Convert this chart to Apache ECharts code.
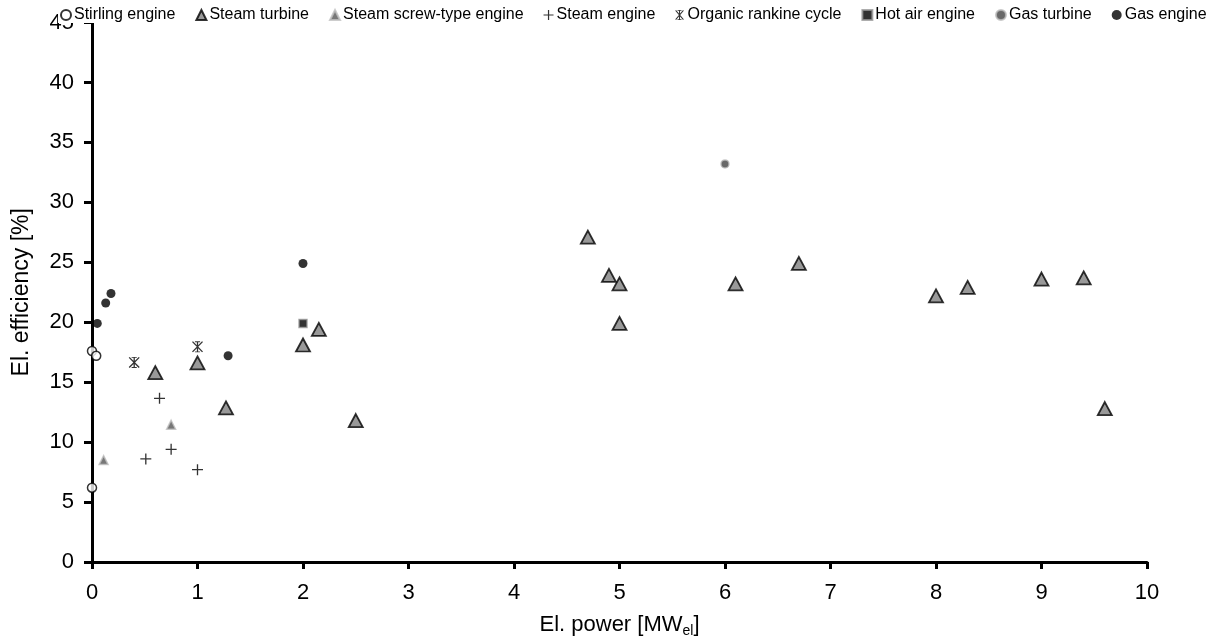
<!DOCTYPE html>
<html>
<head>
<meta charset="utf-8">
<script src="https://cdn.jsdelivr.net/npm/echarts@6/dist/echarts.min.js"></script>
<style>html,body{margin:0;padding:0;background:#fff}#c{width:1223px;height:643px}</style>
</head>
<body>
<div id="c"></div>
<script>
// Data: [El. power MW_el, El. efficiency %]
var seriesNames = ['Stirling engine','Steam turbine','Steam screw-type engine','Steam engine','Organic rankine cycle','Hot air engine','Gas turbine','Gas engine'];
var stirlingEngine = [[0,17.6],[0.04,17.2],[0,6.2]];
var steamTurbine = [[0.6,15.8],[1.0,16.6],[1.27,12.85],[2.0,18.1],[2.15,19.4],[2.5,11.8],[4.7,27.1],[4.9,23.9],[5.0,23.2],[5.0,19.9],[6.1,23.2],[6.7,24.9],[8.0,22.2],[8.3,22.9],[9.0,23.6],[9.4,23.7],[9.6,12.8]];
var steamScrewEngine = [[0.11,8.5],[0.75,11.45]];
var steamEngine = [[0.64,13.65],[0.51,8.6],[0.75,9.4],[1.0,7.7]];
var organicRankine = [[0.4,16.65],[1.0,17.95]];
var hotAirEngine = [[2.0,19.9]];
var gasTurbine = [[6.0,33.2]];
var gasEngine = [[0.05,19.9],[0.13,21.6],[0.18,22.4],[1.29,17.2],[2.0,24.9]];
var xTicks = [0,1,2,3,4,5,6,7,8,9,10];
var yTicks = [0,5,10,15,20,25,30,35,40,45];

var FONT = 'Liberation Sans, Arial, sans-serif';
var plusPath = 'path://M8.8,0H11.2V8.8H20V11.2H11.2V20H8.8V11.2H0V8.8H8.8Z';
var starPath = 'path://M9,0H11V20H9Z M1.5,1.5L3,0L18.5,18.5L17,20Z M17,0L18.5,1.5L3,20L1.5,18.5Z M6,0H14V1.6H6Z M6,18.4H14V20H6Z';

var chart = echarts.init(document.getElementById('c'), null, {renderer:'canvas'});
function sc(name, data, symbol, size, style, z){
  return {name:name, type:'scatter', data:data, symbol:symbol, symbolSize:size, itemStyle:style, z:z||2, emphasis:{disabled:true}};
}
chart.setOption({
  animation:false,
  backgroundColor:'#fff',
  textStyle:{fontFamily:FONT},
  grid:{left:92, right:76, top:22.5, bottom:80.5, containLabel:false},
  legend:{
    top:7, left:58, padding:[0,4,0,2], backgroundColor:'#fff', z:10,
    itemWidth:10, itemHeight:10, itemGap:20,
    textStyle:{fontFamily:FONT, fontSize:16, color:'#000', padding:[0,0,0,-2]},
    data:seriesNames
  },
  xAxis:{
    type:'value', min:0, max:10, interval:1,
    name:'{a|El. power [MW}{s|el}{a|]}', nameLocation:'middle', nameGap:50,
    nameTextStyle:{rich:{a:{fontFamily:FONT,fontSize:22,color:'#000'},s:{fontFamily:FONT,fontSize:14,color:'#000',verticalAlign:'bottom',padding:[12,0,0,0]}}},
    axisLine:{onZero:false, lineStyle:{color:'#000', width:3}},
    axisTick:{show:true, length:7, lineStyle:{color:'#000', width:3}},
    axisLabel:{fontFamily:FONT, fontSize:22, color:'#000', margin:20, formatter:function(v){return xTicks.indexOf(v)>=0?String(v):'';}},
    splitLine:{show:false}
  },
  yAxis:{
    type:'value', min:0, max:45, interval:5,
    name:'El. efficiency [%]', nameLocation:'middle', nameGap:59, nameRotate:90,
    nameTextStyle:{fontFamily:FONT, fontSize:23, color:'#000'},
    axisLine:{onZero:false, lineStyle:{color:'#000', width:3}},
    axisTick:{show:true, length:8, lineStyle:{color:'#000', width:3}},
    axisLabel:{fontFamily:FONT, fontSize:22, color:'#000', margin:18, formatter:function(v){return yTicks.indexOf(v)>=0?String(v):'';}},
    splitLine:{show:false}
  },
  series:[
    sc(seriesNames[0], stirlingEngine, 'circle', 9, {color:'#fff', borderColor:'#000', borderWidth:1.5}, 5),
    sc(seriesNames[1], steamTurbine, 'triangle', [14,13], {color:'#808080', borderColor:'#000', borderWidth:1.8}, 3),
    sc(seriesNames[2], steamScrewEngine, 'triangle', 9, {color:'#555', borderColor:'#c0c0c0', borderWidth:1.5}, 3),
    sc(seriesNames[3], steamEngine, plusPath, 11, {color:'#000'}, 3),
    sc(seriesNames[4], organicRankine, starPath, 11, {color:'#000'}, 3),
    sc(seriesNames[5], hotAirEngine, 'rect', 8, {color:'#000', borderColor:'#999', borderWidth:1.5}, 3),
    sc(seriesNames[6], gasTurbine, 'circle', 8, {color:'#444', borderColor:'#bbb', borderWidth:1.5}, 3),
    sc(seriesNames[7], gasEngine, 'circle', 9, {color:'#000'}, 4)
  ]
});
</script>
</body>
</html>
